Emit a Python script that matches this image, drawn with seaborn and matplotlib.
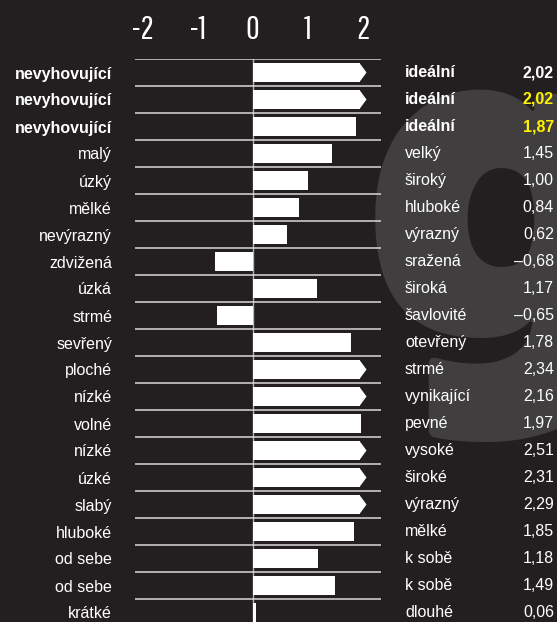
import numpy as np
import matplotlib
matplotlib.use("Agg")
import matplotlib.pyplot as plt
import matplotlib.transforms as mtransforms
from matplotlib.patches import Polygon
import seaborn as sns

# data
left_labels = ['nevyhovující', 'nevyhovující', 'nevyhovující', 'malý', 'úzký', 'mělké',
               'nevýrazný', 'zdvižená', 'úzká', 'strmé', 'sevřený', 'ploché', 'nízké',
               'volné', 'nízké', 'úzké', 'slabý', 'hluboké', 'od sebe', 'od sebe', 'krátké']
right_labels = ['ideální', 'ideální', 'ideální', 'velký', 'široký', 'hluboké', 'výrazný',
                'sražená', 'široká', 'šavlovité', 'otevřený', 'strmé', 'vynikající', 'pevné',
                'vysoké', 'široké', 'výrazný', 'mělké', 'k sobě', 'k sobě', 'dlouhé']
values = [2.02, 2.02, 1.87, 1.45, 1.00, 0.84, 0.62, -0.68, 1.17, -0.65, 1.78,
          2.34, 2.16, 1.97, 2.51, 2.31, 2.29, 1.85, 1.18, 1.49, 0.06]
bold_rows = [0, 1, 2]
yellow_rows = [1, 2]
x_ticks = [-2, -1, 0, 1, 2]

BG = '#231f20'
YELLOW = '#fff200'
CAP = 1.95      # bars longer than 2 are cut here and get an arrow tip
TIP = 2.07
BAR_H = 0.667

sns.set_style('dark')
plt.rcParams['font.family'] = ['Liberation Sans', 'DejaVu Sans']

fig = plt.figure(figsize=(5.57, 6.22), dpi=100, facecolor=BG)
W, H = 557, 622
ax = fig.add_axes([135 / W, -4 / H, 246 / W, 567 / H])
ax.set_facecolor('none')

# big grey letter in the background
fig.text(503 / W, 1 - 347 / H, 'g', fontsize=350, fontweight=900, color='#403e3f',
         ha='center', va='baseline', zorder=-5, family=['Barlow', 'Liberation Sans'])

rows = np.arange(len(values))
shown = [min(v, CAP) if v > 2 else v for v in values]

ax.axvline(0, color='#b5b5b5', lw=1.0, zorder=1)
ax.hlines(rows - 0.5, -2.14, 2.333, color='#d9d9d9', lw=1.1, zorder=1)

sns.barplot(x=shown, y=rows, orient='h', color='white', saturation=1,
            width=BAR_H, linewidth=0, ax=ax, zorder=2)

for i, v in enumerate(values):
    if v > 2:
        ax.add_patch(Polygon([[CAP - 0.001, i - BAR_H / 2], [TIP, i], [CAP - 0.001, i + BAR_H / 2]],
                             closed=True, facecolor='white', edgecolor='none',
                             zorder=2, clip_on=False))

ax.set_xlim(-2.14, 2.333)
ax.set_ylim(20.5, -0.5)
for s in ax.spines.values():
    s.set_visible(False)
ax.grid(False)
ax.set_xlabel('')
ax.set_ylabel('')

# top scale
ax.xaxis.tick_top()
ax.set_xticks(x_ticks)
ax.set_xticklabels([str(t) for t in x_ticks], family=['Pathway Gothic One', 'Liberation Sans'],
                   fontsize=24, color='white')
ax.tick_params(axis='x', length=0, pad=10)

# left labels
ax.set_yticks(rows)
ax.set_yticklabels(left_labels, fontsize=11.5, color='white')
for i, t in enumerate(ax.get_yticklabels()):
    if i in bold_rows:
        t.set_fontweight('bold')
ax.tick_params(axis='y', length=0, pad=16.5)

# right labels and values
trans = mtransforms.blended_transform_factory(fig.transFigure, ax.transData)
for i, (lab, v) in enumerate(zip(right_labels, values)):
    w = 'bold' if i in bold_rows else 'normal'
    c = YELLOW if i in yellow_rows else 'white'
    txt = f'{abs(v):.2f}'.replace('.', ',')
    if v < 0:
        txt = '–' + txt
    ax.text(405 / W, i, lab, transform=trans, ha='left', va='center',
            fontsize=11.5, fontweight=w, color='white', clip_on=False)
    ax.text(554 / W, i, txt, transform=trans, ha='right', va='center',
            fontsize=11.5, fontweight=w, color=c, clip_on=False)

fig.savefig('out.png', dpi=100, facecolor=BG)
